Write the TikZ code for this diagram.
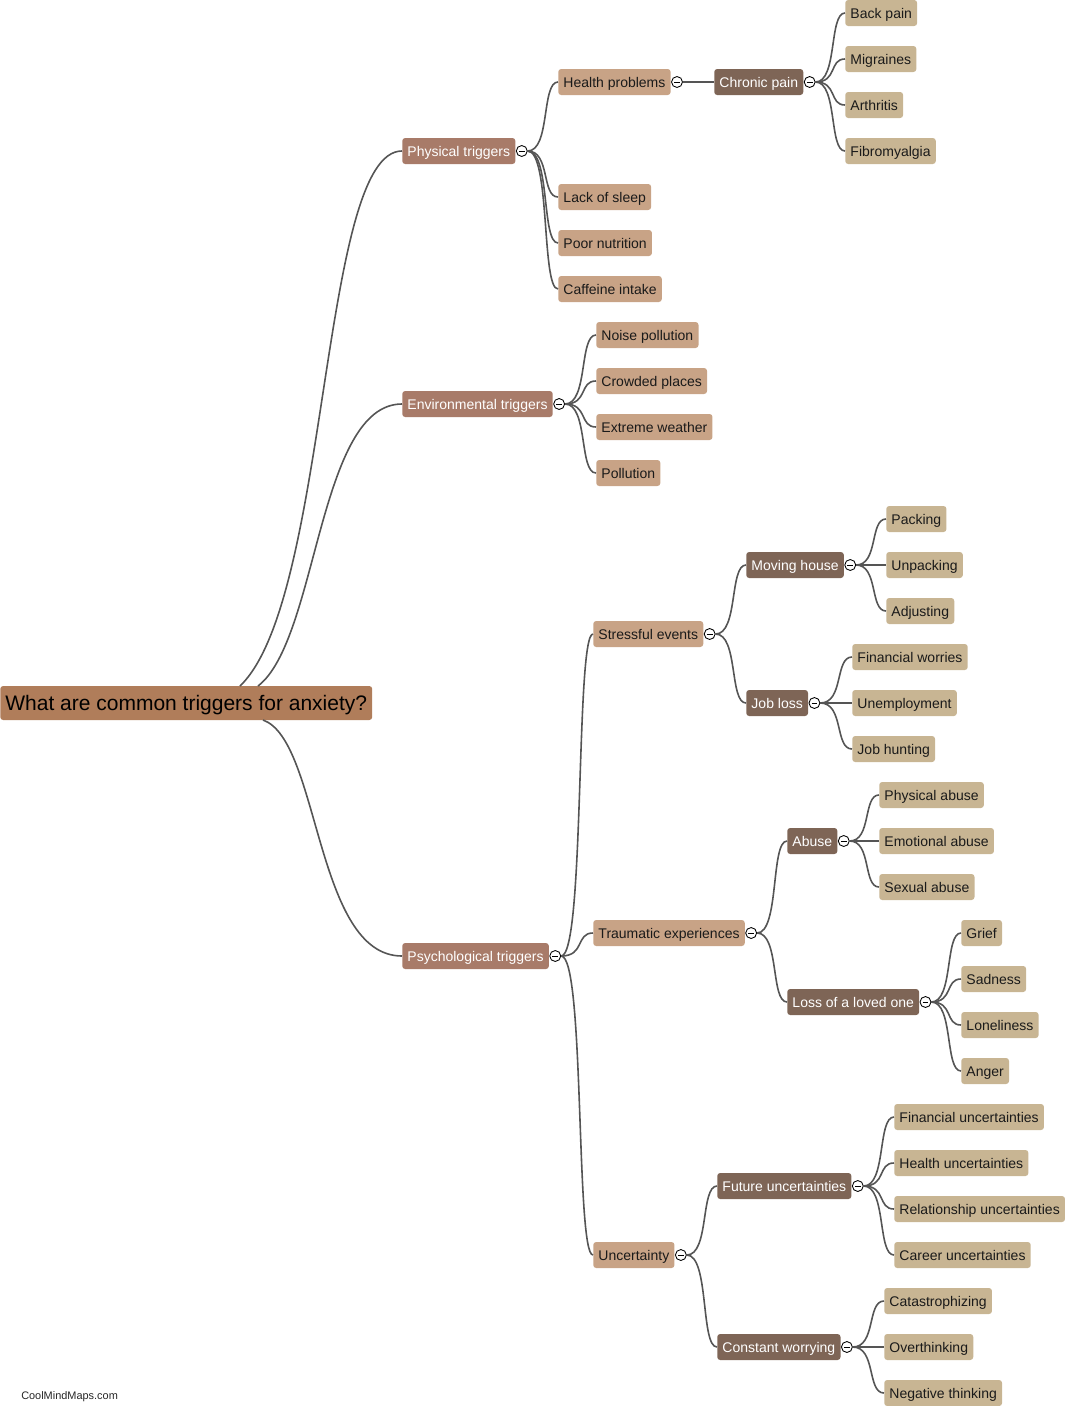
\documentclass[tikz,border=0pt]{standalone}
\usepackage{fontspec}
\setmainfont{Liberation Sans}
\usetikzlibrary{calc}
\definecolor{cRoot}{RGB}{176,125,90}
\definecolor{cL1}{RGB}{168,123,105}
\definecolor{cL2}{RGB}{200,163,134}
\definecolor{cDark}{RGB}{126,101,86}
\definecolor{cLeaf}{RGB}{200,181,147}
\definecolor{cTxt}{RGB}{26,26,26}
\definecolor{cLine}{RGB}{85,85,85}
\newcommand\togg[1]{\node[tog] (#1t) at ([xshift=4.6pt]#1.east) {};}
\newcommand\conn[2]{\draw[conn] let \p1=(#1.east), \p2=(#2.west) in (\p1) .. controls ({\x1+0.75*(\x2-\x1)},\y1) and ({\x1+0.45*(\x2-\x1)},\y2) .. (\p2);}
\begin{document}
\begin{tikzpicture}[x=0.75pt,y=-0.75pt,
  box/.style={rounded corners=2.2pt, minimum height=19.5pt, text height=8.5pt, text depth=1pt, inner xsep=3.9pt, inner ysep=0pt, anchor=west, font=\fontsize{10.5}{12}\selectfont},
  lone/.style={box, fill=cL1, text=white},
  ltwo/.style={box, fill=cL2, text=cTxt},
  ldark/.style={box, fill=cDark, text=white},
  leaf/.style={box, fill=cLeaf, text=cTxt},
  tog/.style={circle, draw=black, fill=white, line width=0.65pt, minimum size=8.2pt, inner sep=0pt,
    path picture={\draw[line width=0.65pt] ([xshift=-2.2pt]path picture bounding box.center) -- ([xshift=2.2pt]path picture bounding box.center);}},
  conn/.style={draw=cLine, line width=1.2pt},
]
\useasboundingbox (0,0) rectangle (1079,1406);

% root
\node[box, fill=cRoot, text=black, minimum height=25.5pt, text height=12.5pt, text depth=1.2pt, inner xsep=3.8pt, font=\fontsize{15.75}{18}\selectfont] (root) at (0,703) {What are common triggers for anxiety?};
\coordinate (r1) at (240,686);
\coordinate (r2) at (258,686);
\coordinate (r3) at (263,720);

% level 1
\node[lone] (phys) at (402,151) {Physical triggers}; \togg{phys}
\node[lone] (env) at (402,404) {Environmental triggers}; \togg{env}
\node[lone] (psych) at (402,956) {Psychological triggers}; \togg{psych}

\draw[conn] (r1) .. controls (330,600) and (320,151) .. (phys.west);
\draw[conn] (r2) .. controls (318,640) and (318,404) .. (env.west);
\draw[conn] (r3) .. controls (320,740) and (315,956) .. (psych.west);

% physical
\node[ltwo] (health) at (558,82) {Health problems}; \togg{health}
\node[ldark] (chronic) at (714,82) {Chronic pain}; \togg{chronic}
\node[leaf] (back) at (845,13) {Back pain};
\node[leaf] (migr) at (845,59) {Migraines};
\node[leaf] (arth) at (845,105) {Arthritis};
\node[leaf] (fibro) at (845,151) {Fibromyalgia};
\node[ltwo] (sleep) at (558,197) {Lack of sleep};
\node[ltwo] (nutr) at (558,243) {Poor nutrition};
\node[ltwo] (caff) at (558,289) {Caffeine intake};
\conn{physt}{health}
\conn{physt}{sleep}
\conn{physt}{nutr}
\conn{physt}{caff}
\conn{healtht}{chronic}
\conn{chronict}{back}
\conn{chronict}{migr}
\conn{chronict}{arth}
\conn{chronict}{fibro}

% environmental
\node[ltwo] (noise) at (596,335) {Noise pollution};
\node[ltwo] (crowd) at (596,381) {Crowded places};
\node[ltwo] (extr) at (596,427) {Extreme weather};
\node[ltwo] (poll) at (596,473) {Pollution};
\conn{envt}{noise}
\conn{envt}{crowd}
\conn{envt}{extr}
\conn{envt}{poll}

% psychological
\node[ltwo] (stress) at (593,634) {Stressful events}; \togg{stress}
\node[ldark] (moving) at (746,565) {Moving house}; \togg{moving}
\node[leaf] (pack) at (886,519) {Packing};
\node[leaf] (unpack) at (886,565) {Unpacking};
\node[leaf] (adjust) at (886,611) {Adjusting};
\node[ldark] (jobloss) at (746,703) {Job loss}; \togg{jobloss}
\node[leaf] (finw) at (852,657) {Financial worries};
\node[leaf] (unemp) at (852,703) {Unemployment};
\node[leaf] (jobh) at (852,749) {Job hunting};
\conn{psycht}{stress}
\conn{stresst}{moving}
\conn{stresst}{jobloss}
\conn{movingt}{pack}
\conn{movingt}{unpack}
\conn{movingt}{adjust}
\conn{joblosst}{finw}
\conn{joblosst}{unemp}
\conn{joblosst}{jobh}

\node[ltwo] (traum) at (593,933) {Traumatic experiences}; \togg{traum}
\node[ldark] (abuse) at (787,841) {Abuse}; \togg{abuse}
\node[leaf] (pabuse) at (879,795) {Physical abuse};
\node[leaf] (eabuse) at (879,841) {Emotional abuse};
\node[leaf] (sabuse) at (879,887) {Sexual abuse};
\node[ldark] (loss) at (787,1002) {Loss of a loved one}; \togg{loss}
\node[leaf] (grief) at (961,933) {Grief};
\node[leaf] (sad) at (961,979) {Sadness};
\node[leaf] (lonely) at (961,1025) {Loneliness};
\node[leaf] (anger) at (961,1071) {Anger};
\conn{psycht}{traum}
\conn{traumt}{abuse}
\conn{traumt}{loss}
\conn{abuset}{pabuse}
\conn{abuset}{eabuse}
\conn{abuset}{sabuse}
\conn{losst}{grief}
\conn{losst}{sad}
\conn{losst}{lonely}
\conn{losst}{anger}

\node[ltwo] (unc) at (593,1255) {Uncertainty}; \togg{unc}
\node[ldark] (future) at (717,1186) {Future uncertainties}; \togg{future}
\node[leaf] (finu) at (894,1117) {Financial uncertainties};
\node[leaf] (healthu) at (894,1163) {Health uncertainties};
\node[leaf] (relu) at (894,1209) {Relationship uncertainties};
\node[leaf] (caru) at (894,1255) {Career uncertainties};
\node[ldark] (worry) at (717,1347) {Constant worrying}; \togg{worry}
\node[leaf] (catas) at (884,1301) {Catastrophizing};
\node[leaf] (overt) at (884,1347) {Overthinking};
\node[leaf] (negt) at (884,1393) {Negative thinking};
\conn{psycht}{unc}
\conn{unct}{future}
\conn{unct}{worry}
\conn{futuret}{finu}
\conn{futuret}{healthu}
\conn{futuret}{relu}
\conn{futuret}{caru}
\conn{worryt}{catas}
\conn{worryt}{overt}
\conn{worryt}{negt}

\node[anchor=west, inner sep=0pt, font=\fontsize{8.2}{10}\selectfont, text=black!85] (wm) at (21,1397) {CoolMindMaps.com};
\end{tikzpicture}
\end{document}
